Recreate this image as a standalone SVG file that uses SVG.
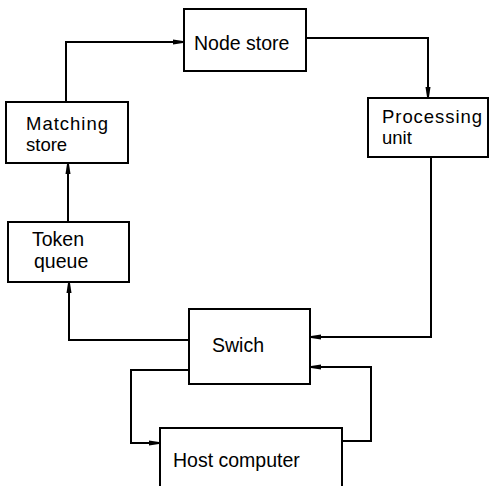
<svg xmlns="http://www.w3.org/2000/svg" width="489" height="486" viewBox="0 0 489 486">
<style>
.box{fill:#fff;stroke:#000;stroke-width:2}
.lbl{font-family:"Liberation Sans",Arial,sans-serif;font-size:19.5px;fill:#000}
.sm{font-size:18.5px}
.conn{fill:none;stroke:#000;stroke-width:2}
</style>
<defs>
<marker id="ah" markerUnits="userSpaceOnUse" markerWidth="11" markerHeight="7" refX="10" refY="3.5" orient="auto">
<path d="M0,1 L10,2.5 L10,4.5 L0,6 z" fill="#000"/>
</marker>
</defs>
<rect width="489" height="486" fill="#fff"/>
<g id="connectors">
<path class="conn" d="M66,102 V42 H183" marker-end="url(#ah)"/>
<path class="conn" d="M306,38 H428 V97" marker-end="url(#ah)"/>
<path class="conn" d="M431,157 V337 H311" marker-end="url(#ah)"/>
<path class="conn" d="M189,340 H69 V283" marker-end="url(#ah)"/>
<path class="conn" d="M68,221 V164" marker-end="url(#ah)"/>
<path class="conn" d="M189,370 H131 V443 H159" marker-end="url(#ah)"/>
<path class="conn" d="M342,441 H371 V367 H311" marker-end="url(#ah)"/>
</g>
<g id="node-store">
<rect class="box" x="184" y="9" width="122" height="62"/>
<text class="lbl" x="194" y="50">Node store</text>
</g>
<g id="matching-store">
<rect class="box" x="6" y="102" width="122" height="61"/>
<text class="lbl sm" x="26" y="130" textLength="82">Matching</text>
<text class="lbl sm" x="26" y="151">store</text>
</g>
<g id="token-queue">
<rect class="box" x="8" y="222" width="121" height="60"/>
<text class="lbl" x="32" y="246">Token</text>
<text class="lbl" x="34" y="268">queue</text>
</g>
<g id="processing-unit">
<rect class="box" x="368" y="98" width="120" height="59"/>
<text class="lbl sm" x="382" y="123" textLength="100">Processing</text>
<text class="lbl sm" x="382" y="144">unit</text>
</g>
<g id="switch">
<rect class="box" x="189" y="309" width="121" height="75"/>
<text class="lbl" x="212" y="352">Swich</text>
</g>
<g id="host-computer">
<rect class="box" x="160" y="428" width="182" height="70"/>
<text class="lbl" x="173" y="467">Host computer</text>
</g>
</svg>
